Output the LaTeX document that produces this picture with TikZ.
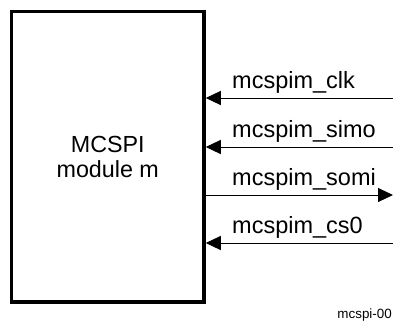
\documentclass[tikz,border=0pt]{standalone}
\usepackage{fontspec}
\setmainfont{Liberation Sans}
\usetikzlibrary{positioning, arrows.meta}
\tikzset{
	modulebox/.style={
			draw=black,
			line width=3.5pt,
			minimum width=192.5pt,
			minimum height=290.5pt,
			inner sep=0pt,
			align=center,
			font=\fontsize{23.3}{24.5}\selectfont
		},
	sigline/.style={
			line width=1pt,
			-{Triangle[length=15pt, width=14pt]}
		},
	siglabel/.style={
			anchor=base west,
			inner sep=0pt,
			font=\fontsize{23.5}{25}\selectfont
		},
	figlabel/.style={
			anchor=base east,
			inner sep=0pt,
			font=\fontsize{13.4}{15}\selectfont
		}
}

\begin{document}
\begin{tikzpicture}[x=1pt, y=-1pt]
				\useasboundingbox (0,0) rectangle (393,325);
				\node[modulebox] at (107.75,156.75) (mcspi) {MCSPI\\module m};
				% signal ends at the right
				\coordinate (clk) at (393,98);
				\coordinate (simo) at (393,147);
				\coordinate (somi) at (393,195);
				\coordinate (cs0) at (393,243);
				\draw[sigline] (clk) -- (clk -| mcspi.east);
				\draw[sigline] (simo) -- (simo -| mcspi.east);
				\draw[sigline] (somi -| mcspi.east) -- (somi);
				\draw[sigline] (cs0) -- (cs0 -| mcspi.east);
				\node[siglabel] at (232,88) (clklabel) {mcspim\_clk};
				\node[siglabel] at (232,137) (simolabel) {mcspim\_simo};
				\node[siglabel] at (232,185) (somilabel) {mcspim\_somi};
				\node[siglabel] at (232,233) (cs0label) {mcspim\_cs0};
				\node[figlabel] at (392,318) (figid) {mcspi-00};
			\end{tikzpicture}
\end{document}
